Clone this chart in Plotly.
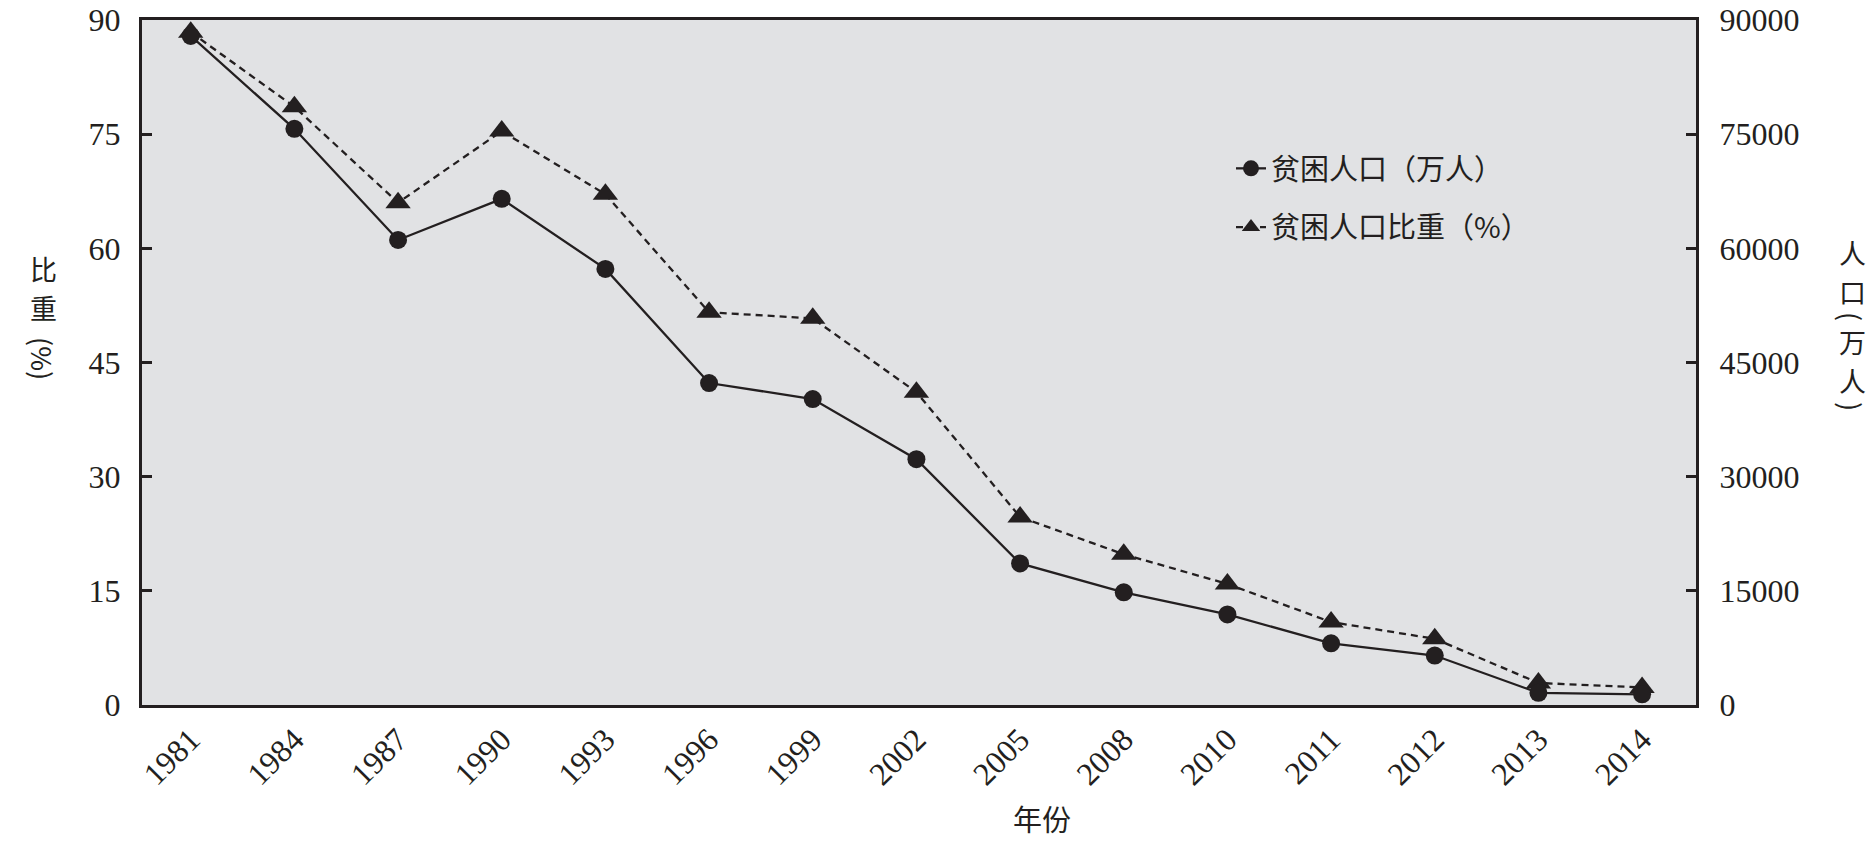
import plotly.graph_objects as go

years = ["1981", "1984", "1987", "1990", "1993", "1996", "1999", "2002",
         "2005", "2008", "2010", "2011", "2012", "2013", "2014"]
poverty_pop = [87900, 75700, 61100, 66500, 57300, 42300, 40200, 32300,
               18600, 14800, 11900, 8100, 6500, 1600, 1400]
poverty_pct = [88.4, 78.6, 66.0, 75.4, 67.1, 51.6, 50.8, 41.1,
               24.7, 19.8, 15.9, 10.9, 8.7, 2.9, 2.3]
left_ticks = [0, 15, 30, 45, 60, 75, 90]
right_ticks = [0, 15000, 30000, 45000, 60000, 75000, 90000]

W, H = 1876, 847
ML, MR, MT, MB = 142, 180, 20, 142
PW, PH = W - ML - MR, H - MT - MB


def px(x):
    return (x - ML) / PW


def py(y):
    return (H - MB - y) / PH


SERIF = "Liberation Serif, Times New Roman, serif"
CJK = "Noto Sans CJK SC, sans-serif"
INK = "#231f20"

fig = go.Figure()
fig.add_trace(go.Scatter(
    x=years, y=poverty_pop, yaxis="y2", name="贫困人口（万人）",
    mode="lines+markers", legendgroup="a",
    line=dict(color=INK, width=2.3),
    marker=dict(symbol="circle", size=18, color=INK),
))
fig.add_trace(go.Scatter(
    x=years, y=poverty_pct, yaxis="y", name="贫困人口比重（%）",
    mode="lines+markers", legendgroup="b",
    line=dict(color=INK, width=2.3, dash="7px,5px"),
    marker=dict(symbol="triangle-up", size=22, color=INK),
))

axis_common = dict(showline=True, linecolor=INK, linewidth=3, showgrid=False,
                   zeroline=False, automargin=False,
                   tickfont=dict(family=SERIF, size=32, color=INK))

fig.update_layout(
    width=W, height=H,
    margin=dict(l=ML, r=MR, t=MT, b=MB, autoexpand=False),
    paper_bgcolor="white", plot_bgcolor="#e1e2e4",
    showlegend=True, hovermode=False,
    legend=dict(x=px(1231), y=py(143), xanchor="left", yanchor="top",
                bgcolor="rgba(0,0,0,0)", traceorder="grouped", tracegroupgap=18,
                font=dict(family=CJK, size=29, color=INK)),
    xaxis=dict(type="category", range=[-0.47, 14.52], ticks="", tickangle=-45,
               mirror=True, **axis_common),
    yaxis=dict(range=[0, 90], tickvals=left_ticks, ticks="inside", ticklen=10,
               tickwidth=3, tickcolor=INK, ticklabelstandoff=12, **axis_common),
    yaxis2=dict(range=[0, 90000], tickvals=right_ticks, tickformat="d",
                overlaying="y", side="right", ticks="inside", ticklen=10,
                tickwidth=3, tickcolor=INK, ticklabelstandoff=14, **axis_common),
)

ann_font = dict(family=CJK, size=27, color=INK)
annotations = [
    dict(text="年份", x=px(1042), y=py(818), font=dict(family=CJK, size=29, color=INK)),
    dict(text="比", x=px(43), y=py(268)),
    dict(text="重", x=px(43), y=py(307)),
    dict(text="(%)", x=px(43), y=py(358), textangle=90),
    dict(text="人", x=px(1852), y=py(252)),
    dict(text="口", x=px(1852), y=py(291)),
    dict(text="(", x=px(1852), y=py(316), textangle=90),
    dict(text="万", x=px(1852), y=py(341)),
    dict(text="人", x=px(1852), y=py(381)),
    dict(text=")", x=px(1852), y=py(406), textangle=90),
]
for a in annotations:
    a.setdefault("font", ann_font)
    fig.add_annotation(xref="paper", yref="paper", showarrow=False,
                       xanchor="center", yanchor="middle", **a)

fig.write_html("out.html",
               config={"displayModeBar": False, "staticPlot": True},
               post_script=["document.body.style.margin='0';"
                            "document.body.style.overflow='hidden';"])
